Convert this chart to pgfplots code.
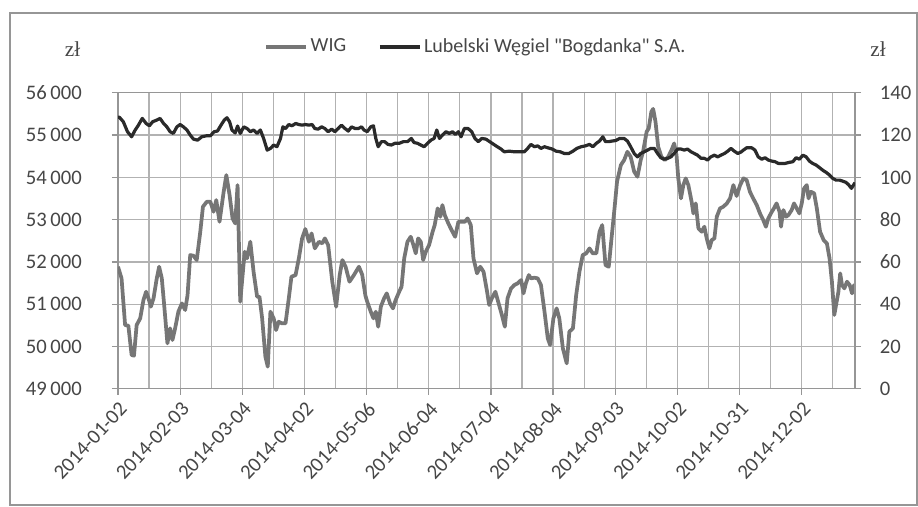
\documentclass[border=0pt]{standalone}
\usepackage{pgfplots}
\pgfplotsset{compat=1.18}
\usepackage{pgfplotstable}
\usepackage{fontspec}
\setmainfont{Carlito}[Ligatures=TeXOff]
\newfontfamily\zlfont{Liberation Serif}
\definecolor{wig}{RGB}{118,118,118}
\definecolor{bog}{RGB}{42,42,42}
\definecolor{gridc}{RGB}{178,178,178}
\definecolor{txt}{RGB}{70,70,70}
\definecolor{axc}{RGB}{150,150,150}

\pgfplotstableread{
x y
0 51887
1.2 51612
2.4 50508
3.5 50493
4.6 49800
5.4 49783
6.3 50508
7.5 50666
8.6 51099
9.5 51296
10.3 51139
11.1 50942
12.0 51139
13.1 51612
13.9 51887
14.8 51612
15.6 50981
16.7 50075
17.6 50430
18.4 50154
19.3 50430
20.4 50824
21.6 51020
22.7 50863
23.5 51217
24.4 52163
25.5 52147
26.6 52045
27.8 52715
28.7 53306
30.0 53424
31.2 53424
32.3 53188
33.2 53463
34.3 52951
35.7 53660
36.6 54054
37.7 53582
38.7 53030
39.6 52912
40.4 53818
41.3 51060
42.8 52242
43.6 52085
44.7 52478
45.8 51769
47.0 51178
47.8 51178
48.7 50666
49.8 49760
50.6 49523
51.5 50824
52.6 50666
53.4 50390
54.3 50587
55.4 50548
56.6 50548
57.7 51139
58.6 51651
60.0 51690
61.1 52085
62.2 52557
63.3 52778
64.5 52478
65.4 52675
66.5 52321
67.9 52478
69.0 52439
69.9 52557
71.0 52400
72.4 51533
73.7 50942
74.9 51690
75.8 52045
76.9 51887
78.2 51533
79.7 51690
81.4 51887
82.5 51700
83.6 51200
84.2 51060
85.4 50824
86.3 50666
87.1 50824
87.9 50469
88.8 50942
89.9 51139
90.8 51257
91.9 51020
92.9 50902
93.8 51099
95.0 51296
95.8 51415
96.7 52085
97.8 52478
98.9 52596
99.8 52400
100.6 52203
101.4 52557
102.3 52478
103.1 52045
104.0 52242
105.1 52400
106.3 52715
107.0 52872
108.0 53267
108.9 53070
109.6 53345
110.4 53109
111.6 52912
112.7 52754
113.9 52596
115.0 52951
116.1 52951
117.2 52951
118.1 53030
119.2 52872
120.1 52085
121.3 51730
122.4 51887
123.5 51769
124.7 51296
125.4 50981
126.3 51139
127.5 51296
128.6 51020
129.7 50745
130.7 50469
131.6 51139
132.8 51375
133.9 51454
135.0 51493
136.2 51572
137.0 51257
137.8 51493
138.8 51690
139.5 51612
140.7 51627
141.8 51612
142.9 51454
144.1 50824
145.2 50193
146.0 50036
147.1 50666
148.2 50902
149.1 50666
150.3 49957
151.6 49602
152.5 50351
153.7 50430
154.8 51217
155.9 51769
157.0 52163
158.2 52203
159.3 52321
160.4 52203
161.6 52203
162.7 52715
163.6 52872
164.7 51927
165.8 51887
166.8 52600
167.8 53300
168.6 53900
169.9 54291
171.0 54409
172.1 54606
173.2 54488
174.4 54133
175.5 54015
176.6 54409
177.4 54606
178.6 55079
179.3 55158
180.2 55552
180.8 55620
181.6 55315
182.5 54724
183.6 54488
184.8 54409
185.9 54488
187.0 54645
187.9 54803
188.7 54527
189.3 53976
190.2 53503
191.0 53818
191.8 53976
192.7 53818
193.8 53424
194.4 53148
195.2 53385
196.1 52794
197.2 52715
198.1 52833
198.9 52557
199.8 52321
200.6 52518
201.5 52557
202.3 53070
203.4 53267
204.5 53306
205.7 53385
206.8 53503
207.9 53818
209.0 53560
210.2 53818
211.3 53976
212.4 53936
213.5 53660
214.6 53503
215.8 53345
216.9 53148
218.0 52991
218.9 52833
219.7 53030
220.9 53188
221.6 53267
222.5 53385
223.5 53188
224.0 52833
224.8 53227
225.7 53070
226.5 53109
227.6 53227
228.4 53385
229.3 53267
230.2 53148
231.0 53385
231.8 53739
232.7 53818
233.3 53503
234.1 53660
235.2 53621
236.1 53267
237.2 52715
238.4 52518
239.5 52439
240.4 52085
241.2 51533
242.0 50745
242.6 50981
243.4 51296
244.0 51730
244.6 51454
245.4 51375
246.3 51533
247.2 51454
248.0 51257
248.7 51454
249.0 51300
}\wigdata

\pgfplotstableread{
x y
0 128.5
0.5 128.4
1.8 126.3
3.2 121.6
4.6 119.2
5.8 122.4
6.9 124.7
8.2 127.9
9.5 125.5
10.6 124.4
11.7 126.3
13.1 127.1
14.2 127.9
15.4 125.5
16.5 123.9
17.6 121.6
18.7 120.8
19.9 123.9
21.0 125.0
22.1 123.9
23.3 122.4
24.4 120.0
25.5 118.1
26.9 117.6
28.3 119.2
30.0 119.7
31.2 119.7
32.5 121.6
33.6 121.9
34.8 124.7
35.9 127.1
36.8 128.2
37.7 126.3
38.5 122.4
39.6 121.0
40.4 124.3
41.3 120.8
42.5 123.9
43.6 123.1
44.7 121.6
45.8 122.4
47.0 120.8
48.1 122.4
49.2 118.4
50.4 112.9
51.5 113.7
52.6 115.3
53.7 114.5
54.9 118.4
55.7 123.9
56.6 123.1
57.7 125.0
58.8 124.4
60.0 125.5
61.1 125.0
62.2 124.7
63.3 125.0
64.5 124.7
65.6 125.0
66.5 123.1
67.6 122.8
68.8 123.9
69.9 123.1
71.0 121.6
72.2 122.8
73.3 121.6
74.4 123.1
75.5 124.7
76.7 123.1
77.8 121.9
78.9 123.9
80.1 123.1
81.2 123.1
82.3 123.9
83.1 122.4
84.2 121.6
85.4 123.9
86.3 124.4
87.1 118.4
87.9 114.5
89.0 116.9
90.1 116.9
91.2 115.6
92.4 115.3
93.5 116.1
95.0 116.1
96.4 116.9
97.8 116.9
99.1 118.4
100.0 116.5
101.2 116.1
102.3 115.3
103.4 114.5
104.6 116.1
105.7 117.6
106.8 118.4
107.7 122.4
108.6 118.4
109.6 120.0
110.8 121.6
111.9 120.8
113.0 121.6
114.0 120.3
115.0 121.6
115.9 119.2
117.0 123.1
118.3 123.1
119.5 121.6
120.6 118.4
121.7 116.9
122.9 118.4
124.3 118.1
126.0 116.5
127.7 114.9
129.4 113.4
130.5 112.1
132.2 112.4
133.9 112.1
135.6 112.1
137.3 112.1
138.4 113.7
139.5 115.6
140.7 114.5
141.8 114.9
142.9 113.7
144.1 114.5
145.2 114.0
146.7 113.4
148.0 112.4
149.4 112.1
150.8 111.3
152.3 111.3
153.7 112.4
155.0 113.7
156.5 114.5
157.9 114.9
159.3 115.6
160.4 114.5
161.6 116.1
162.7 117.2
163.8 119.2
164.7 116.9
165.8 116.9
167.0 117.2
168.1 117.4
169.5 118.4
171.0 118.4
172.1 117.2
173.2 114.5
174.4 111.3
175.5 109.7
176.6 111.3
177.8 112.1
178.9 112.9
180.0 113.7
181.2 113.7
182.3 111.3
183.4 109.3
184.5 108.6
185.7 109.0
186.8 109.7
187.9 111.3
189.1 113.4
190.2 113.4
191.3 112.9
192.4 113.4
193.6 112.1
194.7 111.3
195.8 110.5
197.0 109.0
198.1 109.0
199.2 108.2
200.3 109.7
201.5 110.5
202.6 109.7
203.7 110.5
204.9 111.3
206.0 112.4
207.1 113.7
208.2 112.4
209.4 111.3
210.5 112.0
211.3 112.9
212.4 114.0
214.1 114.0
215.2 112.9
216.3 109.7
217.5 108.6
218.6 109.3
219.7 108.2
220.9 107.7
222.0 107.4
223.1 106.6
224.2 106.6
225.4 106.6
226.8 107.1
228.0 107.4
229.1 109.3
230.2 108.6
231.4 110.5
232.5 109.7
233.6 107.7
234.7 106.6
235.9 105.8
237.0 104.6
238.1 103.4
239.3 102.3
240.4 101.1
241.5 99.5
242.6 98.7
243.8 98.7
244.9 98.2
246.0 97.6
246.9 96.4
247.8 94.8
248.5 96.4
249.0 97.5
}\bogdata

\begin{document}
\fontsize{15}{17}\selectfont
\begin{tikzpicture}
\path (0,0) rectangle (688.5pt,-380.25pt);
\draw[color=axc, line width=1.3pt] (7.5pt,-9.75pt) rectangle (687.5pt,-378.75pt);
\node[text=txt, font=\zlfont\fontsize{16}{18}\selectfont] at (54.4pt,-36.75pt) {zł};
\node[text=txt, font=\zlfont\fontsize{16}{18}\selectfont] at (658.5pt,-36.75pt) {zł};

\begin{axis}[
  at={(88.5pt,-291.6pt)}, anchor=south west,
  width=552.75pt, height=222pt, scale only axis,
  xmin=0, xmax=249, ymin=49000, ymax=56000,
  scaled y ticks=false,
  axis line style={axc, line width=0.9pt},
  tick style={axc, line width=0.9pt},
  tick align=outside, major tick length=4.5pt, minor tick length=0pt,
  xtick pos=bottom, ytick pos=left,
  xtick={0,21,...,231},
  xticklabels={2014-01-02,2014-02-03,2014-03-04,2014-04-02,2014-05-06,2014-06-04,2014-07-04,2014-08-04,2014-09-03,2014-10-02,2014-10-31,2014-12-02},
  minor xtick={10.5,31.5,...,241.5},
  ytick={49000,50000,...,56000},
  yticklabels={49\,000,50\,000,51\,000,52\,000,53\,000,54\,000,55\,000,56\,000},
  xmajorgrids, xminorgrids, ymajorgrids,
  major grid style={gridc, line width=0.9pt},
  minor grid style={gridc, line width=0.9pt},
  yticklabel style={anchor=east, inner sep=0pt, xshift=-22.5pt, text=txt,
    font=\fontsize{15.5}{17}\selectfont},
  xticklabel style={xshift=4pt, yshift=-8pt, rotate=47, anchor=east, inner sep=0pt, text=txt,
    font=\fontsize{15.5}{17}\selectfont},
]
\addplot[wig, line width=2.8pt, line join=round] table {\wigdata};
\end{axis}

\begin{axis}[
  at={(88.5pt,-291.6pt)}, anchor=south west,
  width=552.75pt, height=222pt, scale only axis,
  xmin=0, xmax=249, ymin=0, ymax=140,
  axis x line=none, axis y line*=right,
  axis line style={axc, line width=0.9pt},
  tick style={axc, line width=0.9pt},
  tick align=outside, major tick length=4.5pt,
  ytick={0,20,...,140},
  yticklabels={0,20,40,60,80,100,120,140},
  yticklabel style={anchor=west, inner sep=0pt, xshift=14pt, text=txt,
    font=\fontsize{15.5}{17}\selectfont},
  legend style={at={(0.486,1.155)}, anchor=center, draw=none, fill=none,
    text=txt, legend columns=2, font=\fontsize{15}{17}\selectfont,
    /tikz/every even column/.append style={column sep=22pt}},
  legend image code/.code={\draw[#1] (0pt,0pt) -- (30pt,0pt);},
]
\addlegendimage{wig, line width=2.8pt}
\addlegendentry{WIG}
\addplot[bog, line width=2.4pt, line join=round] table {\bogdata};
\addlegendentry{Lubelski Węgiel "Bogdanka" S.A.}
\end{axis}
\end{tikzpicture}
\end{document}
